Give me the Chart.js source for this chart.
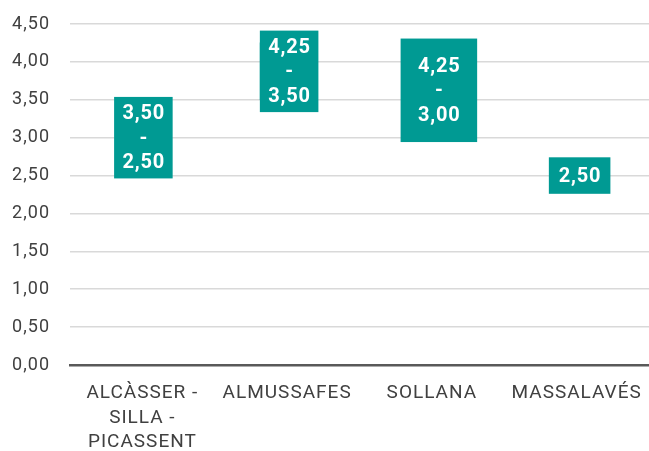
<!DOCTYPE html>
<html>
<head>
<meta charset="utf-8">
<script src="https://cdn.jsdelivr.net/npm/chart.js@4/dist/chart.umd.min.js"></script>
<style>
  html, body { margin: 0; padding: 0; background: #fff; }
  #wrap { width: 649px; height: 451px; position: relative; }
</style>
</head>
<body>
<div id="wrap"><canvas id="chart"></canvas></div>
<script>
// Price ranges per locality, drawn as floating bars with a range label on top.
const categories = [["ALCÀSSER -", "SILLA -", "PICASSENT"], "ALMUSSAFES", "SOLLANA", "MASSALAVÉS"];
const lowValues = [2.5, 3.5, 3.0, 2.5];
const highValues = [3.5, 4.25, 4.25, 2.5];
const Y_MIN = 0;
const Y_MAX = 4.5;
const Y_STEP = 0.5;

const TEAL = "#009a93";
const TEXT = "#404040";
const LINE_H = 24.5;
// label box padding (x, y) and horizontal nudge, per bar
const boxPad = [{ x: 8, y: 4 }, { x: 8, y: 4 }, { x: 17, y: 15 }, { x: 9.5, y: 6 }];
const boxShift = [1, 2, 7, 3];

function fmt(n) { return n.toFixed(2).replace(".", ","); }

const spacing = {
  id: "spacing",
  beforeUpdate(chart) { chart.ctx.letterSpacing = "1px"; },
  beforeDraw(chart) { chart.ctx.letterSpacing = "1px"; },
};

const rangeLabels = {
  id: "rangeLabels",
  afterDatasetsDraw(chart) {
    const ctx = chart.ctx;
    const meta = chart.getDatasetMeta(0);
    ctx.save();
    ctx.letterSpacing = "0.8px";
    ctx.font = "bold 20px Roboto";
    ctx.textAlign = "center";
    ctx.textBaseline = "middle";
    meta.data.forEach((bar, i) => {
      const lines = highValues[i] === lowValues[i]
        ? [fmt(highValues[i])]
        : [fmt(highValues[i]), "-", fmt(lowValues[i])];
      const cx = bar.x + boxShift[i];
      const cy = (bar.y + bar.base) / 2;
      const w = Math.max(...lines.map((l) => ctx.measureText(l).width));
      const pad = boxPad[i];
      const h = lines.length * LINE_H + 2 * pad.y;
      ctx.fillStyle = TEAL;
      ctx.fillRect(cx - w / 2 - pad.x, cy - h / 2, w + 2 * pad.x, h);
      ctx.fillStyle = "#fff";
      lines.forEach((l, k) => {
        ctx.fillText(l, cx + 0.4, cy - (lines.length - 1) / 2 * LINE_H + k * LINE_H + 1);
      });
    });
    ctx.restore();
  },
};

new Chart(document.getElementById("chart"), {
  type: "bar",
  data: {
    labels: categories,
    datasets: [{
      data: lowValues.map((lo, i) => [lo, highValues[i]]),
      backgroundColor: TEAL,
      borderWidth: 0,
      barThickness: 54,
    }],
  },
  options: {
    responsive: true,
    maintainAspectRatio: false,
    animation: false,
    layout: { padding: { top: 24, right: 0, left: 0, bottom: 0 } },
    plugins: { legend: { display: false }, tooltip: { enabled: false } },
    scales: {
      x: {
        grid: { display: false, drawTicks: false },
        border: { display: true, color: "#595959", width: 2.5 },
        ticks: {
          color: TEXT,
          font: { family: "Roboto", size: 19, lineHeight: 1.29 },
          padding: 16,
          maxRotation: 0,
          autoSkip: false,
        },
        afterFit(scale) {
          scale.height = 86;
          scale.paddingLeft = 0;
          scale.paddingRight = 0;
        },
      },
      y: {
        min: Y_MIN,
        max: Y_MAX,
        grid: { color: "#d9d9d9", lineWidth: 1.5, drawTicks: false },
        border: { display: false },
        ticks: {
          stepSize: Y_STEP,
          color: TEXT,
          font: { family: "Roboto", size: 18 },
          padding: 20,
          callback: (v) => fmt(v),
        },
        afterFit(scale) {
          scale.width = 70;
          scale.paddingTop = 0;
          scale.paddingBottom = 0;
        },
      },
    },
  },
  plugins: [spacing, rangeLabels],
});
</script>
</body>
</html>
